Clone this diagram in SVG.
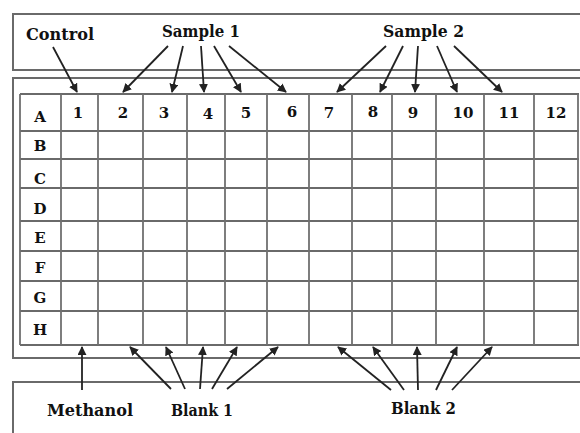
<svg xmlns="http://www.w3.org/2000/svg" width="580" height="433" viewBox="0 0 580 433">
<style>
.box{fill:#fff;stroke:#6a6a6a;stroke-width:2}
.hl{stroke:#3a3a3a;stroke-width:1.6;fill:none}
.vl{stroke:#707070;stroke-width:1.8;fill:none}
.lbl{font-family:"DejaVu Serif","Liberation Serif",serif;font-weight:bold;font-size:16px;fill:#111}
.cell{font-family:"DejaVu Serif","Liberation Serif",serif;font-weight:bold;font-size:15px;fill:#111;text-anchor:middle}
.arr{stroke:#222;stroke-width:1.8;fill:none;marker-end:url(#ah)}
</style>
<defs>
<marker id="ah" viewBox="0 0 10 10" refX="9" refY="5" markerWidth="5" markerHeight="5" orient="auto" markerUnits="strokeWidth">
<path d="M0,0 L10,5 L0,10 z" fill="#222"/>
</marker>
</defs>
<rect width="580" height="433" fill="#fff"/>
<g id="top-box"><rect class="box" x="13" y="14" width="580" height="56"/></g>
<g id="plate-box"><rect class="box" x="13" y="78" width="580" height="280"/></g>
<g id="bottom-box"><rect class="box" x="13" y="382" width="580" height="80"/></g>
<g id="plate">
<rect x="20" y="94" width="558" height="251" fill="#fff"/>
<path class="hl" d="M20,94H579M20,131H579M20,159H579M20,188H579M20,221H579M20,251H579M20,281H579M20,311H579M20,345H579"/>
<path class="vl" d="M20,94V345M61,94V345M98,94V345M143,94V345M187,94V345M225,94V345M267,94V345M309,94V345M352,94V345M392,94V345M436,94V345M484,94V345M534,94V345M578,94V345"/>
<g id="row-labels">
<text class="cell" x="40" y="122">A</text>
<text class="cell" x="40" y="151">B</text>
<text class="cell" x="40" y="184">C</text>
<text class="cell" x="40" y="214">D</text>
<text class="cell" x="40" y="243">E</text>
<text class="cell" x="40" y="273">F</text>
<text class="cell" x="40" y="303">G</text>
<text class="cell" x="40" y="335">H</text>
</g>
<g id="col-labels">
<text class="cell" x="78" y="118">1</text>
<text class="cell" x="123" y="118">2</text>
<text class="cell" x="164" y="118">3</text>
<text class="cell" x="208" y="119">4</text>
<text class="cell" x="246" y="118">5</text>
<text class="cell" x="292" y="117">6</text>
<text class="cell" x="329" y="118">7</text>
<text class="cell" x="373" y="117">8</text>
<text class="cell" x="413" y="118">9</text>
<text class="cell" x="463" y="118">10</text>
<text class="cell" x="509" y="118">11</text>
<text class="cell" x="556" y="118">12</text>
</g>
</g>
<g id="control"><text class="lbl" x="26" y="40" textLength="68" lengthAdjust="spacingAndGlyphs">Control</text></g>
<g id="sample1"><text class="lbl" x="162" y="37" textLength="78" lengthAdjust="spacingAndGlyphs">Sample 1</text></g>
<g id="sample2"><text class="lbl" x="383" y="37" textLength="81" lengthAdjust="spacingAndGlyphs">Sample 2</text></g>
<g id="methanol"><text class="lbl" x="47" y="416" textLength="86" lengthAdjust="spacingAndGlyphs">Methanol</text></g>
<g id="blank1"><text class="lbl" x="171" y="416" textLength="62" lengthAdjust="spacingAndGlyphs">Blank 1</text></g>
<g id="blank2"><text class="lbl" x="391" y="414" textLength="65" lengthAdjust="spacingAndGlyphs">Blank 2</text></g>
<g id="connectors">
<line class="arr" x1="53" y1="47" x2="77" y2="92"/>
<line class="arr" x1="168" y1="46" x2="123" y2="92"/>
<line class="arr" x1="183" y1="46" x2="172" y2="92"/>
<line class="arr" x1="201" y1="46" x2="204" y2="92"/>
<line class="arr" x1="214" y1="46" x2="241" y2="92"/>
<line class="arr" x1="229" y1="46" x2="286" y2="92"/>
<line class="arr" x1="386" y1="46" x2="337" y2="92"/>
<line class="arr" x1="403" y1="46" x2="380" y2="92"/>
<line class="arr" x1="418" y1="46" x2="415" y2="92"/>
<line class="arr" x1="437" y1="46" x2="457" y2="92"/>
<line class="arr" x1="454" y1="46" x2="502" y2="92"/>
<line class="arr" x1="82" y1="390" x2="82" y2="347"/>
<line class="arr" x1="171" y1="389" x2="130" y2="347"/>
<line class="arr" x1="185" y1="389" x2="166" y2="347"/>
<line class="arr" x1="200" y1="389" x2="203" y2="347"/>
<line class="arr" x1="212" y1="389" x2="237" y2="347"/>
<line class="arr" x1="227" y1="389" x2="278" y2="347"/>
<line class="arr" x1="391" y1="390" x2="338" y2="347"/>
<line class="arr" x1="404" y1="390" x2="373" y2="347"/>
<line class="arr" x1="418" y1="390" x2="417" y2="347"/>
<line class="arr" x1="436" y1="390" x2="457" y2="347"/>
<line class="arr" x1="452" y1="390" x2="492" y2="347"/>
</g>
</svg>
